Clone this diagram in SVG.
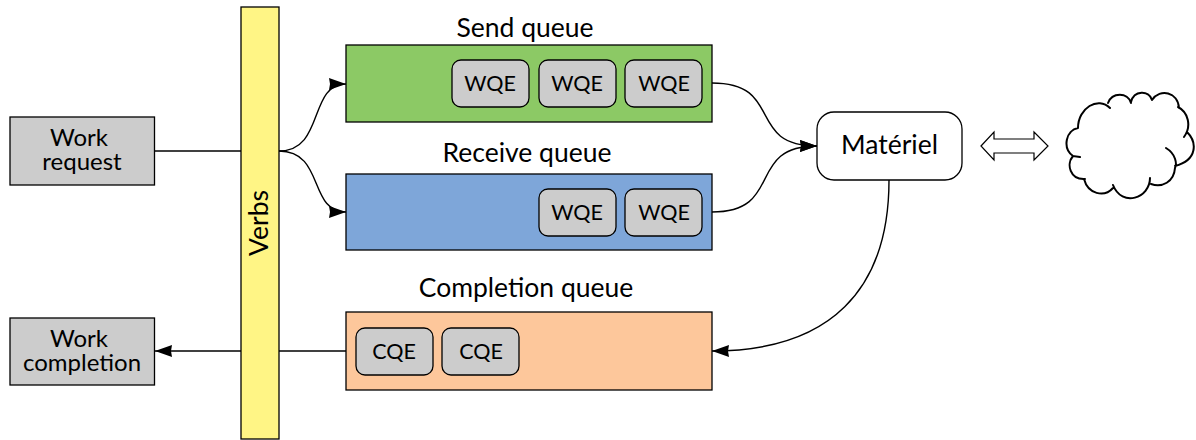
<svg xmlns="http://www.w3.org/2000/svg" width="1196" height="440" viewBox="0 0 1196 440">
<style>
text{font-family:"Lato","Carlito","Liberation Sans",sans-serif;fill:#000;text-anchor:middle}
.t{font-size:26.5px}
.s{font-size:24px}
.b{stroke:#000;stroke-width:1.3}
.w{fill:#cccccc;stroke:#000;stroke-width:1.3}
.l{fill:none;stroke:#000;stroke-width:1.4}
.c{fill:none;stroke:#000;stroke-width:2;stroke-linecap:round}
.q{font-size:21.5px}
</style>
<defs>
<marker id="a" markerUnits="userSpaceOnUse" markerWidth="18" markerHeight="14" refX="17" refY="7" orient="auto"><path d="M0 1L17 7L0 13L1 7Z" fill="#000"/></marker>
</defs>
<g id="connectors">
<path class="l" d="M155 151H241"/>
<path class="l" d="M279 151C325 151 308 84 346 84" marker-end="url(#a)"/>
<path class="l" d="M279 151C325 151 308 212 346 212" marker-end="url(#a)"/>
<path class="l" d="M712 83C785 83 745 146 817 146" marker-end="url(#a)"/>
<path class="l" d="M712 212C785 212 745 146 817 146" marker-end="url(#a)"/>
<path class="l" d="M889 180C889 290 830 351 712 351" marker-end="url(#a)"/>
<path class="l" d="M346 351H279"/>
<path class="l" d="M241 351H155" marker-end="url(#a)"/>
</g>
<g id="work-request"><rect class="b" x="10" y="117" width="144.500" height="68" fill="#cccccc"/><text class="s" x="79" y="146">Work</text><text class="s" x="82" y="170">request</text></g>
<g id="work-completion"><rect class="b" x="10" y="318" width="144.500" height="67" fill="#cccccc"/><text class="s" x="79" y="347">Work</text><text class="s" x="82" y="371">completion</text></g>
<g id="verbs"><rect class="b" x="241" y="7" width="38" height="432" fill="#fff585"/><text class="t" transform="translate(268 223) rotate(-90)">Verbs</text></g>
<g id="send-queue"><text class="t" x="525" y="37">Send queue</text><rect class="b" x="346" y="45" width="366" height="77" fill="#8cc965"/>
<rect class="w" x="452" y="60" width="77" height="47" rx="9"/><text class="q" x="490" y="91">WQE</text>
<rect class="w" x="539" y="60" width="77" height="47" rx="9"/><text class="q" x="577" y="91">WQE</text>
<rect class="w" x="625" y="60" width="77" height="47" rx="9"/><text class="q" x="664" y="91">WQE</text></g>
<g id="receive-queue"><text class="t" x="527" y="162">Receive queue</text><rect class="b" x="346" y="174" width="366" height="76" fill="#7ea6d9"/>
<rect class="w" x="539" y="189" width="77" height="47" rx="9"/><text class="q" x="577" y="220">WQE</text>
<rect class="w" x="625" y="189" width="77" height="47" rx="9"/><text class="q" x="664" y="220">WQE</text></g>
<g id="completion-queue"><text class="t" x="526" y="297">Completion queue</text><rect class="b" x="346" y="312" width="366" height="78" fill="#fdc79b"/>
<rect class="w" x="356" y="328" width="77" height="47" rx="9"/><text class="q" x="394" y="359">CQE</text>
<rect class="w" x="442" y="328" width="77" height="47" rx="9"/><text class="q" x="481" y="359">CQE</text></g>
<g id="materiel"><rect class="b" x="817" y="112" width="145" height="68" rx="17" fill="#fff"/><text class="t" x="889.500" y="154">Matériel</text></g>
<g id="double-arrow"><path d="M981 146L994 132V139H1034V132L1048 146L1034 160V153H994V160Z" fill="#fff" stroke="#000" stroke-width="1.2"/></g>
<g id="cloud"><path class="c" d="M1078 128C1078 108 1098 96 1110 108M1108 103C1112 92 1128 92 1131 103M1131 102C1134 90 1149 90 1152 100M1152 100C1160 88 1178 92 1179 108M1178 107C1188 112 1192 126 1184 137M1187 132C1197 142 1198 160 1175 166M1166 148C1176 154 1177 164 1175 168C1174 182 1162 188 1151 184M1150 178C1150 198 1122 208 1113 185M1113 188C1104 198 1088 194 1084 179M1085 179C1070 180 1066 164 1073 156L1080 157M1073 156C1062 148 1066 130 1078 128"/></g>
</svg>
